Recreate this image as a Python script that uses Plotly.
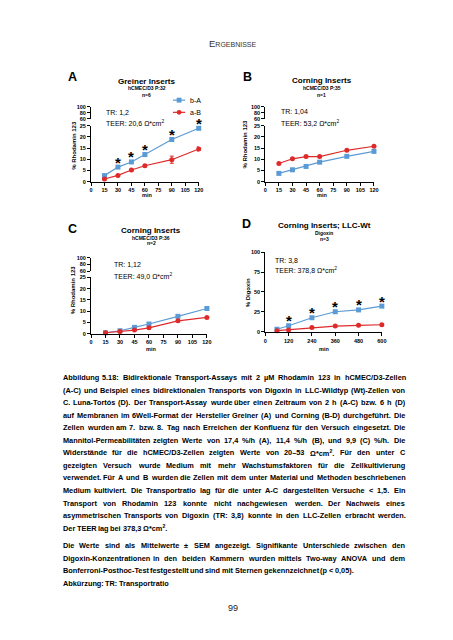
import plotly.graph_objects as go

# ---------------- data ----------------
t_rho = [15, 30, 45, 60, 90, 120]
A_bA = [2.7, 6.5, 8.8, 12.1, 18.8, 23.8]
A_bA_sem = [0.3, 0.3, 0.3, 0.4, 0.4, 0.4]
A_aB = [1.2, 2.8, 5.2, 7.1, 9.8, 14.6]
A_aB_sem = [0.2, 0.3, 0.3, 0.4, 1.6, 0.9]
A_stars = [30, 45, 60, 90, 120]

B_bA = [3.7, 5.3, 6.8, 8.7, 11.3, 13.5]
B_aB = [8.1, 10.2, 11.2, 11.2, 14.0, 15.8]

C_bA = [0.4, 1.3, 2.8, 4.3, 7.7, 11.2]
C_bA_sem = [0.1, 0.2, 0.2, 0.3, 0.3, 0.4]
C_aB = [0.4, 1.0, 1.6, 2.6, 5.7, 7.2]
C_aB_sem = [0.1, 0.1, 0.2, 0.2, 0.3, 0.3]

t_dig = [60, 120, 240, 360, 480, 600]
D_bA = [3.4, 7.8, 17.8, 25.3, 27.6, 32.3]
D_aB = [1.6, 2.6, 5.5, 7.4, 8.3, 9.0]
D_stars = [120, 240, 360, 480, 600]

rho_xticks = [0, 15, 30, 45, 60, 75, 90, 105, 120]
dig_xticks = [0, 120, 240, 360, 480, 600]
low_yticks = [0, 5, 10, 15, 20, 25]
up_yticks = [60, 80, 100]
dig_yticks = [0, 25, 50, 75, 100]

caption_lines = [
    "Abbildung 5.18: Bidirektionale Transport-Assays mit 2 µM Rhodamin 123 in hCMEC/D3-Zellen",
    "(A-C) und Beispiel eines bidirektionalen Transports von Digoxin in LLC-Wildtyp (Wt)-Zellen von",
    "C. Luna-Tortós (D). Der Transport-Assay wurde über einen Zeitraum von 2 h (A-C) bzw. 6 h (D)",
    "auf Membranen im 6Well-Format der Hersteller Greiner (A) und Corning (B-D) durchgeführt. Die",
    "Zellen wurden am 7. bzw. 8. Tag nach Erreichen der Konfluenz für den Versuch eingesetzt. Die",
    "Mannitol-Permeabilitäten zeigten Werte von 17,4 %/h (A), 11,4 %/h (B), und 9,9 (C) %/h. Die",
    "Widerstände für die hCMEC/D3-Zellen zeigten Werte von 20–53 Ω*cm². Für den unter C",
    "gezeigten Versuch wurde Medium mit mehr Wachstumsfaktoren für die Zellkultivierung",
    "verwendet. Für A und B wurden die Zellen mit dem unter Material und Methoden beschriebenen",
    "Medium kultiviert. Die Transportratio lag für die unter A-C dargestellten Versuche < 1,5. Ein",
    "Transport von Rhodamin 123 konnte nicht nachgewiesen werden. Der Nachweis eines",
    "asymmetrischen Transports von Digoxin (TR: 3,8) konnte in den LLC-Zellen erbracht werden.",
    "Der TEER lag bei 378,3 Ω*cm².",
    "Die Werte sind als Mittelwerte ± SEM angezeigt. Signifikante Unterschiede zwischen den",
    "Digoxin-Konzentrationen in den beiden Kammern wurden mittels Two-way ANOVA und dem",
    "Bonferroni-Posthoc-Test festgestellt und sind mit Sternen gekennzeichnet (p < 0,05).",
    "Abkürzung: TR: Transportratio",
]
caption_justified = [True] * 12 + [False, True, True, False, False]

# ---------------- helpers ----------------
W, H = 453, 640
FONT = "Liberation Sans, Arial, Helvetica, sans-serif"
BLUE = "#5b9bd5"
RED = "#df2a2a"


def px(x):
    return x / W


def py(y):
    return 1 - y / H


fig = go.Figure()
annotations = []
shapes = []
layout = {}


def axis_common(**kw):
    d = dict(showline=True, linecolor="black", linewidth=1.2, ticks="outside",
             ticklen=3, tickwidth=1, tickcolor="black", showgrid=False,
             zeroline=False, tickfont=dict(family=FONT, size=5.5, color="black", weight="bold"),
             fixedrange=True)
    d.update(kw)
    return d


def add_panel(idx, xdom, xrange_, xticks, ylow_dom, ylow_range, ylow_ticks, yup_dom=None):
    xname = "xaxis" if idx == 1 else f"xaxis{idx}"
    xref = "x" if idx == 1 else f"x{idx}"
    ylow_n = 2 * idx - 1
    yup_n = 2 * idx
    ylow_ref = "y" if ylow_n == 1 else f"y{ylow_n}"
    layout[xname] = axis_common(domain=[px(xdom[0]), px(xdom[1])], range=xrange_,
                                tickvals=xticks, anchor=ylow_ref)
    layout["yaxis" if ylow_n == 1 else f"yaxis{ylow_n}"] = axis_common(
        domain=[py(ylow_dom[0]), py(ylow_dom[1])], range=ylow_range,
        tickvals=ylow_ticks, anchor=xref)
    if yup_dom is not None:
        layout[f"yaxis{yup_n}"] = axis_common(
            domain=[py(yup_dom[0]), py(yup_dom[1])], range=[60, 100],
            tickvals=up_yticks, anchor=xref)
        fig.add_trace(go.Scatter(x=[None], y=[None], xaxis=xref, yaxis=f"y{yup_n}",
                                 showlegend=False, hoverinfo="skip"))
    return xref, ylow_ref


def add_series(xref, yref, x, y, color, symbol, sem=None):
    ey = dict(type="data", array=sem, color=color, thickness=1, width=2) if sem else None
    fig.add_trace(go.Scatter(
        x=x, y=y, xaxis=xref, yaxis=yref, mode="lines+markers",
        line=dict(color=color, width=1.2),
        marker=dict(color=color, symbol=symbol, size=5 if symbol == "square" else 5),
        error_y=ey, cliponaxis=False, showlegend=False))


def text(x, y, s, size, bold=False, anchor="center", color="black", angle=0, variant=None):
    f = dict(family=FONT, size=size, color=color)
    if bold:
        f["weight"] = "bold"
    if variant:
        f["variant"] = variant
    annotations.append(dict(x=px(x), y=py(y), xref="paper", yref="paper", text=s,
                            showarrow=False, font=f, xanchor=anchor, yanchor="middle",
                            textangle=angle))


def stars(xref, yref, xs, xvals, yvals):
    for xv in xs:
        yv = yvals[xvals.index(xv)]
        annotations.append(dict(x=xv, y=yv, xref=xref, yref=yref, text="*", showarrow=False,
                                font=dict(family=FONT, size=15, color="black", weight="bold"),
                                xanchor="center", yanchor="middle", yshift=5))


# ---------------- Panel A ----------------
xa, ya = add_panel(1, (82.3, 191.7), [0, 120], rho_xticks, (172.3, 115.7), [0, 25],
                   low_yticks, (108.7, 96.7))
add_series(xa, ya, t_rho, A_bA, BLUE, "square", A_bA_sem)
add_series(xa, ya, t_rho, A_aB, RED, "circle", A_aB_sem)
stars(xa, ya, A_stars, t_rho, A_bA)
text(63.5, 66.7, "A", 12.5, True)
text(139, 70.7, "Greiner Inserts", 8, True)
text(139, 78, "hCMEC/D3 P:32", 5, True)
text(139, 84.3, "n=6", 5, True)
text(95, 102.3, "TR: 1,2", 7, anchor="left")
text(95, 112.7, "TEER: 20,6 Ω*cm<sup>2</sup>", 7, anchor="left")
text(65, 135, "% Rhodamin 123", 6, True, angle=-90)
text(139, 186, "min", 5.5, True)
# legend (drawn manually)
for (ly, col, sym, lab) in [(90, BLUE, "square", "b-A"), (102.3, RED, "circle", "a-B")]:
    shapes.append(dict(type="line", xref="paper", yref="paper", x0=px(165.5), x1=px(178),
                       y0=py(ly), y1=py(ly), line=dict(color=col, width=1.2)))
    shp = "rect" if sym == "square" else "circle"
    shapes.append(dict(type=shp, xref="paper", yref="paper", x0=px(169.3), x1=px(174.2),
                       y0=py(ly + 2.45), y1=py(ly - 2.45), fillcolor=col, line=dict(width=0)))
    text(181, ly, lab, 7, anchor="left")

# ---------------- Panel B ----------------
xb, yb = add_panel(2, (259.3, 369.7), [0, 120], rho_xticks, (172.3, 115.7), [0, 25],
                   low_yticks, (108.7, 96.7))
add_series(xb, yb, t_rho, B_aB, RED, "circle")
add_series(xb, yb, t_rho, B_bA, BLUE, "square")
text(241.5, 66.7, "B", 12.5, True)
text(316.5, 70.5, "Corning Inserts", 8, True)
text(316.5, 78, "hCMEC/D3 P:35", 5, True)
text(316.5, 84.3, "n=1", 5, True)
text(273, 101.7, "TR: 1,04", 7, anchor="left")
text(273, 112.7, "TEER: 53,2 Ω*cm<sup>2</sup>", 7, anchor="left")
text(238.5, 134, "% Rhodamin 123", 6, True, angle=-90)
text(316.5, 186, "min", 5.5, True)

# ---------------- Panel C ----------------
xc, yc = add_panel(3, (82.3, 200), [0, 120], rho_xticks, (325.7, 269), [0, 25],
                   low_yticks, (262.7, 249))
add_series(xc, yc, t_rho, C_bA, BLUE, "square", C_bA_sem)
add_series(xc, yc, t_rho, C_aB, RED, "circle", C_aB_sem)
text(63.5, 220, "C", 12.5, True)
text(143.5, 221.7, "Corning Inserts", 8, True)
text(143.5, 228.7, "hCMEC/D3 P:36", 5, True)
text(143.5, 234.3, "n=2", 5, True)
text(104, 256, "TR: 1,12", 7, anchor="left")
text(104, 267.7, "TEER: 49,0 Ω*cm<sup>2</sup>", 7, anchor="left")
text(64, 282, "% Rhodamin 123", 6, True, angle=-90)
text(143.5, 340.7, "min", 5.5, True)

# ---------------- Panel D ----------------
xd, yd = add_panel(4, (259.3, 377.7), [0, 600], dig_xticks, (324, 243.3), [0, 100],
                   dig_yticks, None)
add_series(xd, yd, t_dig, D_bA, BLUE, "square")
add_series(xd, yd, t_dig, D_aB, RED, "circle")
stars(xd, yd, D_stars, t_dig, D_bA)
text(240, 215, "D", 12.5, True)
text(319, 216.7, "Corning Inserts; LLC-Wt", 8, True)
text(319, 224.3, "Digoxin", 5, True)
text(319, 230, "n=3", 5, True)
text(267, 251.7, "TR: 3,8", 7, anchor="left")
text(267, 261.7, "TEER: 378,8 Ω*cm<sup>2</sup>", 7, anchor="left")
text(241.7, 284, "% Digoxin", 6, True, angle=-90)
text(319, 340.7, "min", 5.5, True)

# ---------------- page header / footer ----------------
text(227, 32.7, "Ergebnisse", 9.5, color="#333333", variant="small-caps")
text(226.7, 603, "99", 9, color="#222222")

# ---------------- caption (justified, Arial Bold metrics) ----------------
WID = {" ": 278, "!": 333, "%": 889, "(": 333, ")": 333, "*": 389, "+": 584, ",": 278,
       "-": 333, ".": 278, "/": 278, ":": 333, ";": 333, "<": 584, "=": 584, ">": 584,
       "ä": 556, "ö": 611, "ü": 611, "ó": 611, "µ": 611, "Ω": 768, "±": 584, "–": 556,
       "²": 389}
for c, w in zip("abcdefghijklmnopqrstuvwxyz",
                [556, 611, 556, 611, 556, 333, 611, 611, 278, 278, 556, 278, 889, 611, 611,
                 611, 611, 389, 556, 333, 611, 556, 778, 556, 556, 500]):
    WID[c] = w
for c, w in zip("ABCDEFGHIJKLMNOPQRSTUVWXYZ",
                [722, 722, 722, 722, 667, 611, 778, 722, 278, 556, 722, 611, 833, 722, 778,
                 667, 778, 722, 667, 611, 722, 667, 944, 667, 667, 611]):
    WID[c] = w
for c in "0123456789":
    WID[c] = 556

CAP_FS = 7.35
CAP_X0, CAP_X1 = 53.3, 401.0


def wpx(s):
    return sum(WID.get(c, 556) for c in s) / 1000 * CAP_FS


for i, (line, just) in enumerate(zip(caption_lines, caption_justified)):
    yline = 370 + 12.67 * i if i < 13 else 540 + 12.6 * (i - 13)
    words = line.split(" ")
    widths = [wpx(w) for w in words]
    if just and len(words) > 1:
        gap = (CAP_X1 - CAP_X0 - sum(widths)) / (len(words) - 1)
    else:
        gap = WID[" "] / 1000 * CAP_FS
    xcur = CAP_X0
    for w, wd in zip(words, widths):
        annotations.append(dict(x=px(xcur - 2), y=py(yline), xref="paper", yref="paper",
                                text=w.replace("²", "<sup>2</sup>"), showarrow=False,
                                xanchor="left", yanchor="middle",
                                font=dict(family=FONT, size=CAP_FS, color="black", weight="bold")))
        xcur += wd + gap

fig.update_layout(width=W, height=H, margin=dict(l=0, r=0, t=0, b=0),
                  paper_bgcolor="white", plot_bgcolor="white", showlegend=False,
                  annotations=annotations, shapes=shapes, **layout)
fig.write_html("out.html")
